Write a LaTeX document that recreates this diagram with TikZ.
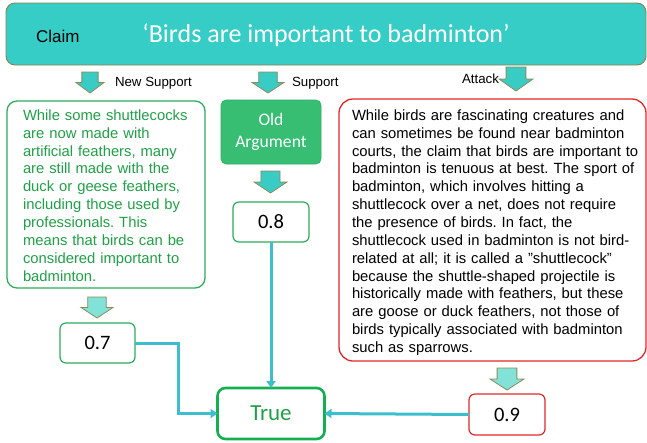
\documentclass[tikz,border=0pt]{standalone}
\usepackage{fontspec}
\setmainfont{Liberation Sans}
\newfontfamily\calfont{Carlito}
\usetikzlibrary{arrows.meta}
\definecolor{claimfill}{RGB}{54,205,198}
\definecolor{claimedge}{RGB}{140,128,80}
\definecolor{arrowfill}{RGB}{56,204,196}
\definecolor{arrowlight}{RGB}{130,226,216}
\definecolor{arrowedge}{RGB}{140,140,90}
\definecolor{gtext}{RGB}{30,160,70}
\definecolor{gedge}{RGB}{45,172,95}
\definecolor{oldfill}{RGB}{55,190,115}
\definecolor{redge}{RGB}{225,40,40}
\definecolor{conncol}{RGB}{60,190,205}
\definecolor{trueedge}{RGB}{20,175,80}
\newcommand\blkarrow[5]{%
  \filldraw[draw=arrowedge, fill=#5, line width=0.8pt]
    ({#1-0.29*#3},{#2}) -- ({#1+0.29*#3},{#2}) -- ({#1+0.29*#3},{#2+0.5*#4})
    -- ({#1+0.5*#3},{#2+0.5*#4}) -- ({#1},{#2+#4}) -- ({#1-0.5*#3},{#2+0.5*#4})
    -- ({#1-0.29*#3},{#2+0.5*#4}) -- cycle;}
\frenchspacing
\begin{document}
\begin{tikzpicture}[x=1pt,y=-1pt,
  every node/.style={inner sep=0pt, outer sep=0pt},
  body/.style={font=\fontsize{14.8}{17.85}\selectfont, text width=#1, align=left, anchor=north west},
  lbl/.style={font=\fontsize{13.3}{15}\selectfont},
  numbox/.style={draw=gedge, fill=white, line width=1.2pt, rounded corners=6pt, minimum width=76pt, minimum height=40pt, font=\calfont\fontsize{20.5}{24}\selectfont},
  conn/.style={draw=conncol, line width=3pt, -{Triangle[length=7pt,width=9pt]}}]
\useasboundingbox (0,0) rectangle (647,442);
% claim
\node[draw=claimedge, fill=claimfill, rounded corners=9pt, line width=0.9pt, minimum width=640pt, minimum height=62pt] (claim) at (326,34) {};
\node[anchor=west, font=\fontsize{17}{20}\selectfont] (claimlbl) at (36,36) {Claim};
\node[font=\calfont\fontsize{26}{30}\selectfont, text=white] (claimtxt) at (326,35) {‘Birds are important to badminton’};
% top arrows and labels
\blkarrow{90}{72}{28}{21}{arrowfill}
\blkarrow{268}{72}{32}{21}{arrowfill}
\blkarrow{516}{67}{34}{24}{arrowfill}
\node[lbl, anchor=west] (lnew) at (115,83) {New Support};
\node[lbl, anchor=west] (lsup) at (292,83) {Support};
\node[lbl, anchor=east] (latt) at (499,79) {Attack};
% green box
\node[draw=gedge, line width=1.3pt, rounded corners=10pt, minimum width=198pt, minimum height=187pt] (gbox) at (106,194.5) {};
\node[body=180pt, text=gtext] (gtxt) at (23,109.7) {While some shuttlecocks\\
are now made with\\
artificial feathers, many\\
are still made with the\\
duck or geese feathers,\\
including those used by\\
professionals. This\\
means that birds can be\\
considered important to\\
badminton.};
% red box
\node[draw=redge, line width=1.3pt, rounded corners=14pt, minimum width=307pt, minimum height=262pt] (rbox) at (492.5,230) {};
\node[body=290pt] (rtxt) at (352,109.7) {While birds are fascinating creatures and\\
can sometimes be found near badminton\\
courts, the claim that birds are important to\\
badminton is tenuous at best. The sport of\\
badminton, which involves hitting a\\
shuttlecock over a net, does not require\\
the presence of birds. In fact, the\\
shuttlecock used in badminton is not bird-\\
related at all; it is called a \char34 shuttlecock\char34\\
because the shuttle-shaped projectile is\\
historically made with feathers, but these\\
are goose or duck feathers, not those of\\
birds typically associated with badminton\\
such as sparrows.};
% old argument
\node[fill=oldfill, draw=oldfill!90!black, line width=0.6pt, rounded corners=5pt, minimum width=100pt, minimum height=64pt, text=white, align=center, font=\calfont\fontsize{17.6}{21.7}\selectfont] (old) at (271,132) {Old\\Argument};
\blkarrow{270.5}{171}{33}{22}{arrowfill}
\node[numbox] (p08) at (271,222) {0.8};
% 0.7
\blkarrow{97}{297}{32}{21}{arrowlight}
\node[numbox, minimum width=75pt] (p07) at (97.5,343) {0.7};
% 0.9
\blkarrow{507}{368}{34}{22}{arrowlight}
\node[numbox, draw=redge, minimum height=41pt] (p09) at (507,414.5) {0.9};
% true
\node[draw=trueedge, line width=2.6pt, rounded corners=8pt, minimum width=107pt, minimum height=51pt, text=gtext, font=\calfont\fontsize{23}{27}\selectfont] (true) at (271,413.5) {True};
% connectors
\coordinate (bend) at (178,343);
\draw[conn] (p07.east) -- (bend) |- (true.west);
\draw[conn] (p08.south) -- (true.north);
\draw[conn] (p09.west) -- (true.east);
\end{tikzpicture}
\end{document}
